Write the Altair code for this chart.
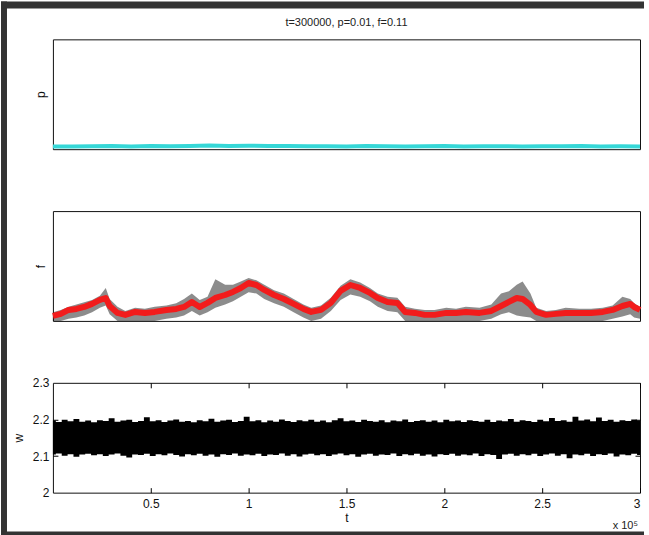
import altair as alt
import pandas as pd

W = 588
H = 110
FONT = "Liberation Sans"
CYAN = "#36d7d7"
RED = "#f21c1c"
DARK = "#333333"

# ---------------- data ----------------
# panel p
t_p = [0, 0.1, 0.2, 0.3, 0.4, 0.5, 0.6, 0.7, 0.8, 0.9, 1.0, 1.1, 1.2, 1.3, 1.4, 1.5,
       1.6, 1.7, 1.8, 1.9, 2.0, 2.1, 2.2, 2.3, 2.4, 2.5, 2.6, 2.7, 2.8, 2.9, 3.0]
p_vals = [0.024, 0.025, 0.026, 0.030, 0.025, 0.028, 0.027, 0.030, 0.033, 0.029, 0.032,
          0.030, 0.028, 0.026, 0.027, 0.025, 0.028, 0.027, 0.025, 0.026, 0.028, 0.025,
          0.027, 0.026, 0.025, 0.027, 0.026, 0.028, 0.025, 0.026, 0.025]

# panel f
t_f = [0, 0.04, 0.08, 0.12, 0.16, 0.20, 0.24, 0.27, 0.29, 0.33, 0.37, 0.42, 0.47, 0.52,
       0.58, 0.63, 0.67, 0.71, 0.75, 0.79, 0.83, 0.88, 0.92, 0.96, 1.00, 1.04, 1.08,
       1.13, 1.18, 1.23, 1.28, 1.32, 1.37, 1.42, 1.47, 1.52, 1.57, 1.62, 1.66, 1.71,
       1.76, 1.80, 1.85, 1.90, 1.95, 2.01, 2.06, 2.11, 2.18, 2.24, 2.29, 2.33, 2.37,
       2.40, 2.44, 2.47, 2.52, 2.57, 2.62, 2.69, 2.75, 2.81, 2.86, 2.91, 2.95, 2.97, 3.00]
f_red = [0.045, 0.064, 0.100, 0.109, 0.127, 0.155, 0.191, 0.209, 0.136, 0.073, 0.055,
         0.082, 0.073, 0.082, 0.100, 0.109, 0.127, 0.173, 0.127, 0.164, 0.209, 0.236,
         0.264, 0.300, 0.345, 0.327, 0.282, 0.236, 0.200, 0.155, 0.109, 0.082, 0.100,
         0.164, 0.273, 0.327, 0.300, 0.255, 0.209, 0.173, 0.164, 0.082, 0.073, 0.055,
         0.055, 0.073, 0.073, 0.082, 0.073, 0.091, 0.136, 0.173, 0.209, 0.200, 0.145,
         0.082, 0.055, 0.064, 0.073, 0.073, 0.073, 0.082, 0.100, 0.136, 0.155, 0.127, 0.100]
f_blk_lo = [0.00, 0.00, 0.02, 0.03, 0.05, 0.08, 0.12, 0.14, 0.06, 0.00,
            0.00, 0.00, 0.00, 0.00, 0.02, 0.03, 0.05, 0.09, 0.05, 0.08,
            0.12, 0.15, 0.18, 0.22, 0.26, 0.25, 0.20, 0.16, 0.13, 0.08,
            0.03, 0.00, 0.02, 0.09, 0.19, 0.24, 0.22, 0.18, 0.13, 0.09,
            0.08, 0.00, 0.00, 0.00, 0.00, 0.00, 0.00, 0.00, 0.00, 0.02,
            0.06, 0.08, 0.05, 0.04, 0.03, 0.00, 0.00, 0.00, 0.00, 0.00,
            0.00, 0.00, 0.02, 0.04, 0.06, 0.03, 0.02]
f_blk_hi = [0.08, 0.10, 0.13, 0.15, 0.17, 0.19, 0.23, 0.30, 0.20, 0.13,
            0.09, 0.12, 0.11, 0.13, 0.14, 0.16, 0.20, 0.25, 0.19, 0.22,
            0.38, 0.33, 0.33, 0.36, 0.39, 0.37, 0.33, 0.28, 0.25, 0.20,
            0.15, 0.12, 0.14, 0.21, 0.32, 0.38, 0.35, 0.30, 0.25, 0.22,
            0.21, 0.13, 0.11, 0.10, 0.10, 0.12, 0.11, 0.13, 0.12, 0.15,
            0.25, 0.27, 0.33, 0.36, 0.25, 0.12, 0.09, 0.10, 0.12, 0.11,
            0.11, 0.12, 0.14, 0.22, 0.20, 0.16, 0.13]

# panel w
t_w = [0.00, 0.03, 0.06, 0.09, 0.12, 0.15, 0.18, 0.21, 0.24, 0.27,
       0.30, 0.33, 0.36, 0.39, 0.42, 0.45, 0.48, 0.51, 0.54, 0.57,
       0.60, 0.63, 0.66, 0.69, 0.72, 0.75, 0.78, 0.81, 0.84, 0.87,
       0.90, 0.93, 0.96, 0.99, 1.02, 1.05, 1.08, 1.11, 1.14, 1.17,
       1.20, 1.23, 1.26, 1.29, 1.32, 1.35, 1.38, 1.41, 1.44, 1.47,
       1.50, 1.53, 1.56, 1.59, 1.62, 1.65, 1.68, 1.71, 1.74, 1.77,
       1.80, 1.83, 1.86, 1.89, 1.92, 1.95, 1.98, 2.01, 2.04, 2.07,
       2.10, 2.13, 2.16, 2.19, 2.22, 2.25, 2.28, 2.31, 2.34, 2.37,
       2.40, 2.43, 2.46, 2.49, 2.52, 2.55, 2.58, 2.61, 2.64, 2.67,
       2.70, 2.73, 2.76, 2.79, 2.82, 2.85, 2.88, 2.91, 2.94, 2.97,
       3.00]
w_hi = [2.197, 2.193, 2.199, 2.195, 2.201, 2.194, 2.197, 2.192, 2.198, 2.196,
        2.203, 2.194, 2.197, 2.199, 2.193, 2.196, 2.206, 2.195, 2.198, 2.193,
        2.197, 2.200, 2.194, 2.196, 2.192, 2.198, 2.195, 2.202, 2.194, 2.197,
        2.199, 2.193, 2.196, 2.207, 2.195, 2.198, 2.192, 2.197, 2.194, 2.200,
        2.196, 2.193, 2.198, 2.195, 2.199, 2.194, 2.197, 2.192, 2.198, 2.203,
        2.195, 2.197, 2.193, 2.199, 2.196, 2.194, 2.198, 2.192, 2.197, 2.195,
        2.200, 2.193, 2.196, 2.198, 2.194, 2.197, 2.192, 2.199, 2.195, 2.197,
        2.193, 2.198, 2.196, 2.194, 2.199, 2.193, 2.197, 2.195, 2.201, 2.194,
        2.198, 2.196, 2.193, 2.199, 2.195, 2.204, 2.196, 2.198, 2.194, 2.207,
        2.197, 2.200, 2.195, 2.205, 2.196, 2.199, 2.194, 2.198, 2.196, 2.200,
        2.197]
w_lo = [2.104, 2.107, 2.101, 2.105, 2.098, 2.104, 2.106, 2.102, 2.105, 2.100,
        2.104, 2.107, 2.101, 2.096, 2.104, 2.103, 2.106, 2.100, 2.105, 2.102,
        2.107, 2.103, 2.099, 2.105, 2.102, 2.106, 2.101, 2.104, 2.098, 2.105,
        2.103, 2.107, 2.101, 2.104, 2.102, 2.106, 2.100, 2.104, 2.103, 2.107,
        2.101, 2.105, 2.099, 2.104, 2.106, 2.102, 2.105, 2.100, 2.104, 2.107,
        2.102, 2.105, 2.098, 2.104, 2.106, 2.101, 2.104, 2.103, 2.107, 2.100,
        2.105, 2.102, 2.106, 2.101, 2.104, 2.099, 2.105, 2.103, 2.106, 2.101,
        2.104, 2.102, 2.107, 2.100, 2.105, 2.103, 2.092, 2.104, 2.106, 2.101,
        2.105, 2.102, 2.106, 2.100, 2.104, 2.107, 2.101, 2.105, 2.094, 2.104,
        2.102, 2.106, 2.100, 2.105, 2.103, 2.107, 2.099, 2.104, 2.102, 2.106,
        2.103]

x_ticks = [0.5, 1, 1.5, 2, 2.5, 3]
w_ticks = [2, 2.1, 2.2, 2.3]
w_inner_ticks = [2.1, 2.2]

title_text = "t=300000, p=0.01, f=0.11"
exponent_text = "x 10⁵"

# ---------------- frames ----------------
df_p = pd.DataFrame({"t": t_p, "p": p_vals})
df_f = pd.DataFrame({"t": t_f, "f": f_red, "lo": f_blk_lo, "hi": f_blk_hi})
df_w = pd.DataFrame({"t": t_w, "lo": w_lo, "hi": w_hi})
one = alt.Data(values=[{"k": 1}])

x_scale = alt.Scale(domain=[0, 3], nice=False, zero=False)
unit_scale = alt.Scale(domain=[0, 1], nice=False, zero=False)
w_scale = alt.Scale(domain=[2, 2.3], nice=False, zero=False)


def ytitle_axis(title):
    return alt.Axis(title=title, labels=False, ticks=False, tickSize=0, domain=False,
                    grid=False, labelPadding=0, titlePadding=5)


# ---- panel p ----
p_line = alt.Chart(df_p).mark_line(color=CYAN, strokeWidth=4).encode(
    x=alt.X("t:Q", scale=x_scale, axis=None),
    y=alt.Y("p:Q", scale=unit_scale, axis=ytitle_axis("p")),
)
title_mark = alt.Chart(one).mark_text(
    text=title_text, font=FONT, fontSize=11, color="#222222",
    align="center", baseline="middle",
).encode(x=alt.value(W / 2), y=alt.value(-16))
panel1 = alt.layer(p_line, title_mark).properties(width=W, height=H)

# ---- panel f ----
f_band = alt.Chart(df_f).mark_area(color="black", opacity=0.45, interpolate="linear").encode(
    x=alt.X("t:Q", scale=x_scale, axis=None),
    y=alt.Y("lo:Q", scale=unit_scale, axis=ytitle_axis("f")),
    y2="hi:Q",
)
f_line = alt.Chart(df_f).mark_line(color=RED, strokeWidth=6, strokeJoin="round").encode(
    x=alt.X("t:Q", scale=x_scale, axis=None),
    y=alt.Y("f:Q", scale=unit_scale),
)
panel2 = alt.layer(f_band, f_line).properties(width=W, height=H)

# ---- panel w ----
w_band = alt.Chart(df_w).mark_area(color="black", interpolate="step").encode(
    x=alt.X("t:Q", scale=x_scale,
            axis=alt.Axis(orient="bottom", values=x_ticks, format="~g", title="t",
                          ticks=False, tickSize=0, domain=False, grid=False,
                          labelPadding=6, titlePadding=3)),
    y=alt.Y("lo:Q", scale=w_scale,
            axis=alt.Axis(orient="left", values=w_ticks, format="~g", title="w",
                          ticks=False, tickSize=0, domain=False, grid=False,
                          labelPadding=4, titlePadding=7)),
    y2="hi:Q",
)
# inward ticks at bottom and left
w_ticks_a = alt.Chart(df_w).mark_point(opacity=0).encode(
    x=alt.X("t:Q", scale=x_scale,
            axis=alt.Axis(orient="top", offset=-H, values=x_ticks, labels=False, title="",
                          tickSize=5, domain=False, grid=False, tickColor="black")),
    y=alt.Y("lo:Q", scale=w_scale,
            axis=alt.Axis(orient="right", offset=-W, values=w_inner_ticks, labels=False,
                          title="", tickSize=5, domain=False, grid=False, tickColor="black")),
)
# inward ticks at top and right
w_ticks_b = alt.Chart(df_w).mark_point(opacity=0).encode(
    x=alt.X("t:Q", scale=x_scale,
            axis=alt.Axis(orient="bottom", offset=-H, values=x_ticks, labels=False, title="",
                          tickSize=5, domain=False, grid=False, tickColor="black")),
    y=alt.Y("lo:Q", scale=w_scale,
            axis=alt.Axis(orient="left", offset=-W, values=w_inner_ticks, labels=False,
                          title="", tickSize=5, domain=False, grid=False, tickColor="black")),
)
exp_mark = alt.Chart(one).mark_text(
    text=exponent_text, font=FONT, fontSize=11, color="#222222", align="right",
    baseline="alphabetic",
).encode(x=alt.value(W - 2), y=alt.value(146))


def strip(x1, x2, y1, y2):
    return alt.Chart(one).mark_rect(color=DARK).encode(
        x=alt.value(x1), x2=alt.value(x2), y=alt.value(y1), y2=alt.value(y2)
    )


left_strip = strip(-52, -46, -382, 153)
top_strip = strip(-52, W + 4, -382, -375)
bottom_strip = strip(-52, W + 4, 149, 153)

panel3 = alt.layer(
    w_band, w_ticks_a, w_ticks_b, exp_mark, left_strip, top_strip, bottom_strip
).resolve_axis(x="independent", y="independent").properties(width=W, height=H)

chart = alt.vconcat(panel1, panel2, panel3, spacing=62, bounds="flush").properties(
    padding=0, background="white"
).configure_view(
    stroke="#111111", strokeWidth=1
).configure_axis(
    labelFont=FONT, titleFont=FONT, labelFontSize=12, titleFontSize=12,
    titleFontWeight="normal", labelColor="#111111", titleColor="#111111",
)

chart.save("out.html", embed_options={"renderer": "svg", "actions": False})
